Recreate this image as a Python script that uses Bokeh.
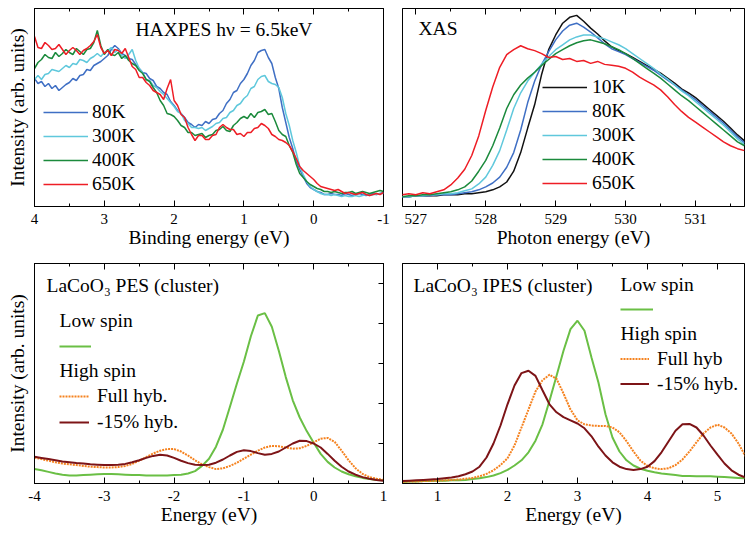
from bokeh.plotting import figure
from bokeh.models import (Range1d, LinearAxis, SingleIntervalTicker, FixedTicker,
                          Legend, LegendItem, Label)
from bokeh.layouts import column, row
from bokeh.embed import file_html
from bokeh.resources import INLINE

FONT = "Liberation Serif"

# ---------------- data: HAXPES (binding energy 4 -> -1 eV, 0.05 eV grid) ----------------
haxpes_energy = [round(4.0 - 0.05 * i, 2) for i in range(101)]
hax_80K = [
    128, 123, 125, 120, 123, 118, 121, 116, 119, 122,
    124, 128, 126, 131, 132, 137, 136, 141, 143, 145,
    148, 151, 157, 161, 158, 153, 151, 148, 147, 142,
    138, 134, 133, 128, 126, 120, 118, 114, 112, 105,
    101, 96, 93, 89, 84, 82, 79, 82, 81, 85,
    83, 87, 88, 93, 96, 103, 107, 114, 116, 123,
    127, 133, 141, 146, 154, 156, 157, 149, 143, 129,
    118, 99, 84, 69, 58, 45, 37, 30, 23, 19,
    17, 15, 14, 12, 12, 13, 12, 12, 11, 13,
    12, 11, 12, 13, 12, 11, 12, 13, 12, 13,
    14]
hax_300K = [
    127, 131, 127, 132, 133, 137, 136, 135, 138, 141,
    139, 143, 142, 147, 146, 144, 148, 150, 153, 150,
    154, 156, 159, 154, 157, 151, 148, 152, 157, 146,
    138, 134, 127, 126, 121, 119, 115, 112, 108, 104,
    100, 95, 93, 86, 83, 79, 79, 78, 79, 76,
    78, 80, 83, 84, 88, 89, 94, 96, 101, 103,
    108, 111, 118, 120, 127, 130, 131, 125, 123, 122,
    119, 109, 93, 81, 66, 54, 40, 32, 25, 20,
    17, 15, 13, 12, 12, 11, 12, 11, 10, 11,
    10, 10, 11, 10, 11, 12, 11, 12, 12, 13,
    13]
hax_400K = [
    138, 144, 147, 152, 149, 148, 154, 150, 153, 157,
    154, 152, 158, 155, 152, 157, 158, 164, 176, 161,
    152, 157, 152, 151, 154, 148, 151, 146, 143, 141,
    136, 133, 127, 125, 119, 114, 106, 101, 93, 92,
    90, 86, 81, 79, 74, 74, 71, 72, 73, 69,
    71, 72, 76, 77, 80, 76, 75, 81, 84, 88,
    90, 88, 93, 89, 94, 95, 97, 92, 93, 85,
    76, 72, 70, 61, 54, 42, 33, 29, 25, 22,
    20, 18, 17, 15, 15, 14, 15, 14, 13, 14,
    14, 15, 13, 14, 15, 14, 13, 14, 15, 16,
    15]
hax_650K = [
    170, 159, 158, 164, 161, 157, 158, 162, 157, 152,
    156, 159, 156, 152, 156, 158, 161, 165, 172, 159,
    153, 156, 151, 157, 156, 153, 158, 149, 140, 137,
    129, 129, 124, 121, 116, 114, 112, 107, 118, 127,
    106, 101, 92, 89, 79, 72, 66, 71, 71, 67,
    67, 71, 72, 79, 82, 79, 77, 77, 72, 73,
    70, 74, 74, 78, 79, 83, 81, 78, 72, 70,
    67, 66, 64, 61, 55, 48, 40, 36, 33, 30,
    27, 23, 20, 19, 18, 17, 16, 17, 15, 13,
    14, 13, 12, 13, 14, 12, 11, 12, 13, 12,
    14]

# ---------------- data: XAS (photon energy 526.8 -> 531.7 eV, 0.1 eV grid) ----------------
xas_energy = [round(526.8 + 0.1 * i, 1) for i in range(50)]
xas_10K = [10, 10, 11, 11, 11, 11, 12, 12, 12, 13,
           13, 14, 15, 17, 20, 25, 36, 55, 80, 104,
           135, 160, 175, 187, 193, 195, 189, 182, 176, 169,
           163, 159, 156, 152, 148, 144, 140, 136, 131, 126,
           120, 116, 111, 105, 99, 93, 87, 80, 73, 67]
xas_80K = [10, 10, 11, 11, 11, 12, 12, 12, 13, 14,
           15, 17, 20, 24, 30, 40, 55, 78, 106, 128,
           145, 158, 170, 179, 185, 187, 183, 178, 172, 166,
           161, 158, 155, 151, 147, 143, 139, 134, 129, 124,
           119, 114, 109, 103, 97, 91, 85, 78, 71, 65]
xas_300K = [10, 10, 11, 11, 12, 12, 13, 13, 14, 16,
            18, 23, 30, 42, 57, 78, 100, 116, 128, 137,
            145, 153, 160, 165, 170, 173, 175, 175, 173, 171,
            168, 165, 161, 156, 151, 146, 141, 135, 130, 124,
            118, 113, 107, 101, 95, 89, 83, 76, 69, 63]
xas_400K = [10, 11, 11, 12, 12, 13, 14, 15, 17, 20,
            26, 36, 47, 62, 80, 100, 114, 124, 131, 137,
            144, 150, 156, 160, 164, 167, 169, 170, 168, 166,
            163, 160, 156, 151, 146, 141, 136, 131, 125, 119,
            113, 108, 102, 96, 90, 84, 78, 72, 66, 62]
xas_650K = [12, 13, 12, 14, 13, 15, 17, 22, 29, 38,
            52, 72, 98, 122, 142, 155, 160, 164, 161, 159,
            156, 152, 153, 150, 151, 148, 149, 146, 148, 145,
            144, 143, 141, 137, 132, 128, 124, 119, 112, 104,
            97, 91, 86, 81, 76, 71, 66, 62, 59, 57]

# ---------------- data: PES cluster (energy -4 -> 1 eV, 0.1 eV grid) ----------------
pes_energy = [round(-4.0 + 0.1 * i, 1) for i in range(51)]
pes_low_spin = [0.36, 0.33, 0.29, 0.25, 0.22, 0.20, 0.20, 0.21, 0.22, 0.23,
                0.24, 0.24, 0.23, 0.22, 0.21, 0.21, 0.20, 0.20, 0.20, 0.20,
                0.21, 0.22, 0.25, 0.31, 0.44, 0.62, 0.92, 1.35, 1.92, 2.50,
                3.05, 3.68, 4.20, 4.26, 3.92, 3.32, 2.66, 2.08, 1.65, 1.31,
                1.02, 0.74, 0.54, 0.40, 0.30, 0.23, 0.18, 0.14, 0.11, 0.09,
                0.08]
pes_full_hyb = [0.65, 0.61, 0.57, 0.53, 0.50, 0.48, 0.46, 0.44, 0.42, 0.41,
                0.40, 0.40, 0.41, 0.44, 0.49, 0.57, 0.66, 0.75, 0.82, 0.86,
                0.86, 0.80, 0.70, 0.58, 0.48, 0.41, 0.36, 0.38, 0.44, 0.52,
                0.62, 0.72, 0.82, 0.90, 0.94, 0.93, 0.90, 0.87, 0.88, 0.94,
                1.03, 1.12, 1.14, 1.04, 0.82, 0.58, 0.38, 0.24, 0.16, 0.12,
                0.09]
pes_m15_hyb = [0.67, 0.64, 0.61, 0.58, 0.55, 0.53, 0.51, 0.50, 0.48, 0.47,
               0.46, 0.46, 0.47, 0.49, 0.53, 0.58, 0.64, 0.69, 0.72, 0.70,
               0.64, 0.57, 0.51, 0.47, 0.46, 0.47, 0.52, 0.60, 0.70, 0.79,
               0.83, 0.81, 0.76, 0.72, 0.74, 0.80, 0.90, 1.00, 1.07, 1.06,
               1.00, 0.90, 0.74, 0.57, 0.42, 0.30, 0.22, 0.16, 0.12, 0.09,
               0.07]

# ---------------- data: IPES cluster (energy 0.5 -> 5.4 eV, 0.1 eV grid) ----------------
ipes_energy = [round(0.5 + 0.1 * i, 1) for i in range(50)]
ipes_low_spin = [0.04, 0.05, 0.05, 0.06, 0.06, 0.07, 0.07, 0.08, 0.08, 0.09,
                 0.11, 0.13, 0.16, 0.20, 0.26, 0.34, 0.45, 0.58, 0.78, 1.07,
                 1.48, 2.07, 2.69, 3.32, 3.86, 4.07, 3.82, 3.15, 2.52, 1.73,
                 1.15, 0.80, 0.58, 0.45, 0.37, 0.32, 0.28, 0.25, 0.23, 0.21,
                 0.19, 0.19, 0.18, 0.18, 0.18, 0.17, 0.16, 0.15, 0.14, 0.13]
ipes_full_hyb = [0.04, 0.05, 0.05, 0.06, 0.06, 0.07, 0.08, 0.09, 0.10, 0.12,
                 0.14, 0.18, 0.24, 0.33, 0.46, 0.63, 0.95, 1.40, 1.85, 2.30,
                 2.58, 2.72, 2.62, 2.25, 1.85, 1.58, 1.48, 1.45, 1.44, 1.44,
                 1.40, 1.28, 1.06, 0.80, 0.57, 0.44, 0.38, 0.36, 0.38, 0.46,
                 0.60, 0.80, 1.03, 1.25, 1.40, 1.47, 1.40, 1.25, 1.00, 0.68]
ipes_m15_hyb = [0.06, 0.07, 0.08, 0.09, 0.10, 0.11, 0.13, 0.15, 0.18, 0.23,
                0.30, 0.42, 0.65, 1.00, 1.45, 1.98, 2.45, 2.76, 2.82, 2.69,
                2.33, 1.98, 1.78, 1.66, 1.58, 1.50, 1.38, 1.18, 0.92, 0.70,
                0.53, 0.42, 0.36, 0.34, 0.36, 0.42, 0.56, 0.78, 1.05, 1.32,
                1.48, 1.49, 1.40, 1.20, 0.95, 0.72, 0.50, 0.33, 0.22, 0.15]

temp_labels_hax = ["80K", "300K", "400K", "650K"]
temp_labels_xas = ["10K", "80K", "300K", "400K", "650K"]

C_BLACK = "#111111"
C_BLUE = "#3f6fc4"
C_CYAN = "#5fc8dc"
C_GREEN = "#1b8a3c"
C_RED = "#ee1d25"
C_LOW = "#6abf45"
C_ORANGE = "#f5821f"
C_DARKRED = "#7d1417"


def make_fig(w, h, xr, yr, bl, br, bt, bb):
    p = figure(width=w, height=h, x_range=xr, y_range=yr, output_backend="svg",
               toolbar_location=None, min_border_left=bl, min_border_right=br,
               min_border_top=bt, min_border_bottom=bb)
    p.xgrid.visible = False
    p.ygrid.visible = False
    p.outline_line_color = "black"
    p.outline_line_width = 1
    p.outline_line_alpha = 1
    p.background_fill_color = "white"
    p.border_fill_color = "white"
    return p


def tick_only_axis(ticker, tick_len, minor_len):
    # an axis that shows tick marks only (its labels are never painted)
    return LinearAxis(ticker=ticker, major_tick_in=tick_len, major_tick_out=0,
                      minor_tick_in=minor_len, minor_tick_out=0,
                      major_label_text_font_size="1px", major_label_text_color=None,
                      major_label_text_alpha=0, major_label_standoff=0,
                      axis_line_color="black", major_tick_line_color="black",
                      minor_tick_line_color="black")


def style_xaxis(p, title, overrides=None):
    ax = p.xaxis[0]
    ax.ticker = SingleIntervalTicker(interval=1, num_minor_ticks=2)
    ax.major_tick_in = 6
    ax.major_tick_out = 0
    ax.minor_tick_in = 3
    ax.minor_tick_out = 0
    ax.axis_line_color = "black"
    ax.major_tick_line_color = "black"
    ax.minor_tick_line_color = "black"
    ax.major_label_text_font = FONT
    ax.major_label_text_font_size = "15px"
    ax.major_label_text_color = "black"
    ax.major_label_standoff = 7
    if overrides:
        ax.major_label_overrides = overrides
    ax.axis_label = title
    ax.axis_label_text_font = FONT
    ax.axis_label_text_font_size = "19.5px"
    ax.axis_label_text_font_style = "normal"
    ax.axis_label_text_color = "black"
    ax.axis_label_standoff = 0
    p.add_layout(tick_only_axis(SingleIntervalTicker(interval=1, num_minor_ticks=2), 6, 3), "above")


def style_yaxis(p, title):
    ay = p.yaxis[0]
    if title is None:
        ay.visible = False
        return
    ay.ticker = FixedTicker(ticks=[])
    ay.axis_line_color = "black"
    ay.major_label_standoff = 0
    ay.axis_label = title
    ay.axis_label_text_font = FONT
    ay.axis_label_text_font_size = "19.5px"
    ay.axis_label_text_font_style = "normal"
    ay.axis_label_text_color = "black"
    ay.axis_label_standoff = 7


def make_legend(items, loc, gw, gh, standoff, show_text=True):
    leg = Legend(items=items, location=loc, orientation="vertical", padding=0, margin=0,
                 spacing=0, glyph_width=gw, glyph_height=gh, label_height=gh,
                 label_standoff=standoff, label_text_font=FONT,
                 label_text_font_size="19.5px", label_text_color="black",
                 border_line_color=None, background_fill_alpha=0)
    if not show_text:
        leg.label_text_color = None
        leg.label_text_alpha = 0
        leg.label_width = 0
        leg.label_standoff = 0
    return leg


def add_text(p, x, y, txt):
    p.add_layout(Label(x=x, y=y, x_units="screen", y_units="screen", text=txt,
                       text_font=FONT, text_font_size="19.5px", text_color="black",
                       text_baseline="alphabetic", text_align="left"))


# ---------------- panel 1: HAXPES ----------------
p1 = make_fig(392, 255, Range1d(4, -1), Range1d(0, 198), 34, 9, 8, 49)
style_xaxis(p1, "Binding energy (eV)", {-1: "-1"})
style_yaxis(p1, "Intensity (arb. units)")
r = []
for ys, c in zip([hax_80K, hax_300K, hax_400K, hax_650K], [C_BLUE, C_CYAN, C_GREEN, C_RED]):
    r.append(p1.line(haxpes_energy, ys, line_color=c, line_width=1.5))
p1.add_layout(make_legend([LegendItem(label=l, renderers=[rr]) for l, rr in zip(temp_labels_hax, r)],
                          (9, 10), 45, 24, 4))
add_text(p1, 101, 177, "HAXPES hν = 6.5keV")

# ---------------- panel 2: XAS ----------------
p2 = make_fig(353, 255, Range1d(526.81, 531.7), Range1d(0, 202), 10, 1, 5, 48)
style_xaxis(p2, "Photon energy (eV)")
style_yaxis(p2, None)
r = []
for ys, c in zip([xas_10K, xas_80K, xas_300K, xas_400K, xas_650K],
                 [C_BLACK, C_BLUE, C_CYAN, C_GREEN, C_RED]):
    r.append(p2.line(xas_energy, ys, line_color=c, line_width=1.5))
p2.add_layout(make_legend([LegendItem(label=l, renderers=[rr]) for l, rr in zip(temp_labels_xas, r)],
                          (140, 11), 45, 24, 5))
add_text(p2, 16, 178, "XAS")

# ---------------- panel 3: PES cluster ----------------
p3 = make_fig(392, 278, Range1d(-4, 1), Range1d(0, 5.5), 34, 9, 8, 50)
style_xaxis(p3, "Energy (eV)", {-4: "-4", -3: "-3", -2: "-2", -1: "-1"})
style_yaxis(p3, "Intensity (arb. units)")
p3.add_layout(tick_only_axis(SingleIntervalTicker(interval=1, num_minor_ticks=0), 5, 0), "right")
g3 = p3.line(pes_energy, pes_low_spin, line_color=C_LOW, line_width=2)
o3 = p3.line(pes_energy, pes_full_hyb, line_color=C_ORANGE, line_width=2, line_dash="2 1")
d3 = p3.line(pes_energy, pes_m15_hyb, line_color=C_DARKRED, line_width=2)
p3.add_layout(make_legend([LegendItem(label="Low spin", renderers=[g3])], (25, 124), 32, 26, 8,
                          show_text=False))
p3.add_layout(make_legend([LegendItem(label="Full hyb.", renderers=[o3]),
                           LegendItem(label="-15% hyb.", renderers=[d3])], (25, 48), 30, 26, 8))
add_text(p3, 12, 198, "LaCoO₃ PES (cluster)")
add_text(p3, 25, 163, "Low spin")
add_text(p3, 25, 113, "High spin")

# ---------------- panel 4: IPES cluster ----------------
p4 = make_fig(353, 278, Range1d(0.5, 5.386), Range1d(0, 5.5), 10, 1, 8, 50)
style_xaxis(p4, "Energy (eV)")
style_yaxis(p4, None)
g4 = p4.line(ipes_energy, ipes_low_spin, line_color=C_LOW, line_width=2)
o4 = p4.line(ipes_energy, ipes_full_hyb, line_color=C_ORANGE, line_width=2, line_dash="2 1")
d4 = p4.line(ipes_energy, ipes_m15_hyb, line_color=C_DARKRED, line_width=2)
p4.add_layout(make_legend([LegendItem(label="Low spin", renderers=[g4])], (218, 161), 33, 26, 8,
                          show_text=False))
p4.add_layout(make_legend([LegendItem(label="Full hyb", renderers=[o4]),
                           LegendItem(label="-15% hyb.", renderers=[d4])], (218, 87), 29, 25, 8))
add_text(p4, 11, 198, "LaCoO₃ IPES (cluster)")
add_text(p4, 218, 199, "Low spin")
add_text(p4, 218, 150, "High spin")

layout = column(row(p1, p2), row(p3, p4))
open("out.html", "w").write(file_html(layout, INLINE))
